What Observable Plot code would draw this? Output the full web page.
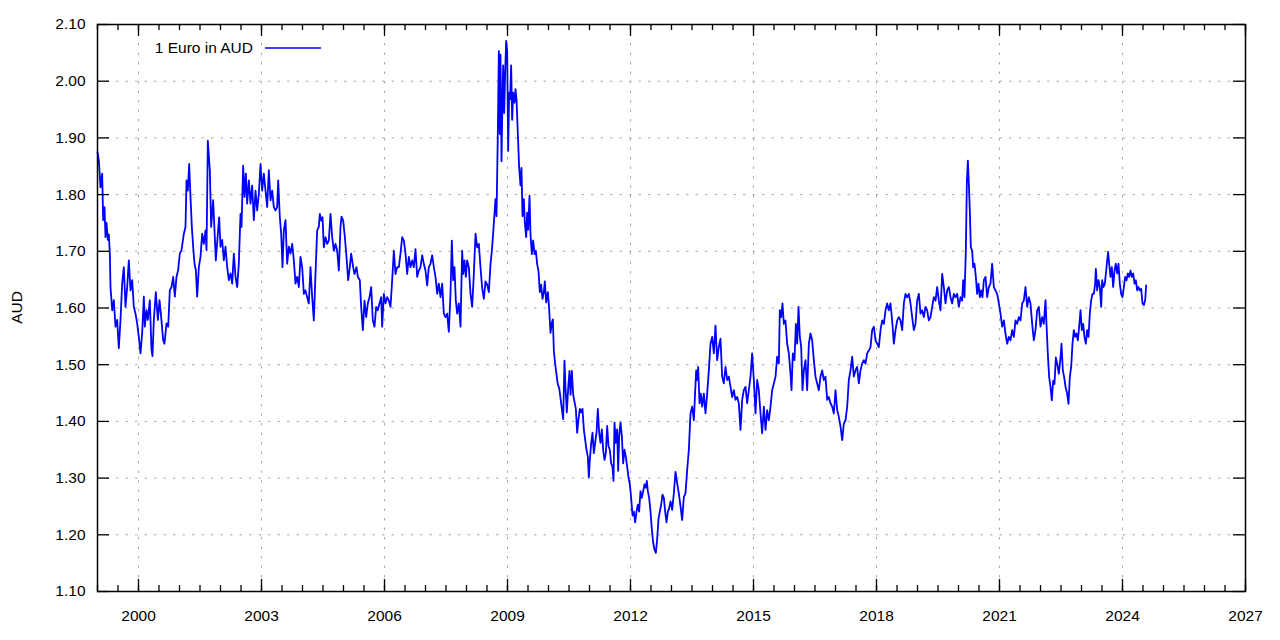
<!DOCTYPE html>
<html><head><meta charset="utf-8">
<script src="https://cdn.jsdelivr.net/npm/d3@7"></script>
<script src="https://cdn.jsdelivr.net/npm/@observablehq/plot@0.6"></script>
<style>
html,body{margin:0;padding:0;background:#fff;}
#chart{width:1280px;height:640px;}
</style></head><body><div id="chart"></div>
<script>
// EUR -> AUD exchange rate, [decimal year, AUD per 1 EUR]
const eur1999to2003 = [[1999.000,1.875],[1999.033,1.86],[1999.073,1.813],[1999.114,1.837],[1999.138,1.755],[1999.171,1.778],[1999.195,1.725],[1999.220,1.75],[1999.252,1.72],[1999.276,1.73],[1999.301,1.696],[1999.317,1.637],[1999.358,1.596],[1999.398,1.614],[1999.439,1.567],[1999.480,1.579],[1999.520,1.529],[1999.561,1.579],[1999.602,1.643],[1999.642,1.672],[1999.683,1.602],[1999.724,1.637],[1999.764,1.684],[1999.805,1.631],[1999.846,1.649],[1999.886,1.602],[1999.927,1.59],[1999.967,1.573],[2000.008,1.549],[2000.049,1.52],[2000.089,1.555],[2000.130,1.62],[2000.154,1.567],[2000.195,1.596],[2000.228,1.579],[2000.276,1.614],[2000.317,1.526],[2000.341,1.515],[2000.374,1.579],[2000.423,1.628],[2000.472,1.579],[2000.512,1.614],[2000.553,1.584],[2000.602,1.543],[2000.634,1.537],[2000.683,1.573],[2000.724,1.567],[2000.764,1.631],[2000.805,1.637],[2000.846,1.655],[2000.886,1.62],[2000.927,1.655],[2000.967,1.667],[2001.008,1.696],[2001.049,1.702],[2001.106,1.731],[2001.146,1.743],[2001.171,1.825],[2001.203,1.807],[2001.236,1.854],[2001.268,1.796],[2001.301,1.743],[2001.333,1.708],[2001.366,1.678],[2001.398,1.667],[2001.431,1.62],[2001.472,1.672],[2001.512,1.69],[2001.553,1.731],[2001.593,1.713],[2001.634,1.737],[2001.659,1.702],[2001.691,1.895],[2001.740,1.843],[2001.772,1.743],[2001.821,1.79],[2001.854,1.737],[2001.886,1.684],[2001.935,1.731],[2001.967,1.76],[2002.000,1.708],[2002.041,1.72],[2002.081,1.684],[2002.122,1.708],[2002.163,1.672],[2002.203,1.649],[2002.244,1.661],[2002.285,1.643],[2002.325,1.696],[2002.366,1.655],[2002.407,1.637],[2002.447,1.678],[2002.488,1.766],[2002.512,1.743],[2002.553,1.851],[2002.585,1.796],[2002.618,1.837],[2002.650,1.784],[2002.691,1.825],[2002.732,1.784],[2002.772,1.816],[2002.813,1.755],[2002.854,1.807],[2002.894,1.772],[2002.935,1.801],[2002.976,1.854],[2003.016,1.807],[2003.057,1.837],[2003.098,1.807],[2003.138,1.778],[2003.179,1.843],[2003.220,1.79],[2003.260,1.807],[2003.301,1.778],[2003.341,1.772],[2003.382,1.778],[2003.407,1.825],[2003.447,1.76],[2003.480,1.731],[2003.512,1.672],[2003.545,1.737],[2003.585,1.755],[2003.626,1.678],[2003.667,1.708],[2003.707,1.696]];

const eur2003to2008 = [[2003.748,1.713],[2003.789,1.684],[2003.829,1.643],[2003.870,1.655],[2003.911,1.637],[2003.951,1.69],[2003.992,1.672],[2004.033,1.625],[2004.073,1.631],[2004.114,1.619],[2004.154,1.608],[2004.195,1.672],[2004.236,1.619],[2004.276,1.578],[2004.317,1.66],[2004.358,1.737],[2004.398,1.743],[2004.423,1.766],[2004.455,1.754],[2004.488,1.76],[2004.520,1.707],[2004.561,1.725],[2004.602,1.713],[2004.642,1.719],[2004.683,1.766],[2004.724,1.725],[2004.764,1.701],[2004.805,1.713],[2004.846,1.701],[2004.886,1.666],[2004.927,1.743],[2004.951,1.761],[2004.992,1.754],[2005.033,1.725],[2005.073,1.69],[2005.114,1.649],[2005.154,1.672],[2005.187,1.696],[2005.236,1.672],[2005.268,1.66],[2005.317,1.672],[2005.350,1.655],[2005.398,1.649],[2005.431,1.602],[2005.472,1.561],[2005.512,1.613],[2005.553,1.584],[2005.593,1.608],[2005.634,1.619],[2005.675,1.637],[2005.715,1.578],[2005.756,1.567],[2005.797,1.602],[2005.837,1.596],[2005.878,1.608],[2005.919,1.619],[2005.943,1.567],[2005.984,1.625],[2006.024,1.608],[2006.065,1.619],[2006.106,1.613],[2006.146,1.602],[2006.187,1.649],[2006.228,1.701],[2006.268,1.66],[2006.309,1.672],[2006.350,1.672],[2006.390,1.696],[2006.431,1.725],[2006.472,1.719],[2006.512,1.696],[2006.553,1.66],[2006.593,1.69],[2006.634,1.672],[2006.675,1.684],[2006.715,1.672],[2006.756,1.704],[2006.797,1.655],[2006.837,1.666],[2006.878,1.672],[2006.919,1.693],[2006.959,1.678],[2007.000,1.666],[2007.041,1.64],[2007.081,1.672],[2007.122,1.678],[2007.163,1.693],[2007.203,1.672],[2007.244,1.655],[2007.285,1.625],[2007.325,1.643],[2007.366,1.619],[2007.407,1.643],[2007.447,1.59],[2007.488,1.584],[2007.528,1.59],[2007.569,1.558],[2007.610,1.625],[2007.642,1.719],[2007.675,1.649],[2007.707,1.672],[2007.740,1.613],[2007.772,1.59],[2007.813,1.608],[2007.854,1.567],[2007.894,1.701],[2007.919,1.66],[2007.951,1.684],[2007.984,1.655],[2008.016,1.684],[2008.057,1.672],[2008.098,1.625],[2008.138,1.602],[2008.179,1.66],[2008.220,1.731],[2008.260,1.707],[2008.301,1.713],[2008.341,1.672]];

const eur2008to2012 = [[2008.382,1.635],[2008.423,1.616],[2008.463,1.647],[2008.504,1.641],[2008.545,1.628],[2008.585,1.677],[2008.626,1.707],[2008.667,1.75],[2008.707,1.792],[2008.732,1.762],[2008.764,1.907],[2008.789,2.053],[2008.813,1.907],[2008.829,2.047],[2008.854,1.859],[2008.878,1.968],[2008.894,2.028],[2008.919,1.944],[2008.943,2.016],[2008.967,2.071],[2008.992,2.053],[2009.016,1.877],[2009.041,1.98],[2009.065,1.968],[2009.089,2.028],[2009.114,1.932],[2009.138,1.98],[2009.171,1.962],[2009.195,1.986],[2009.220,1.968],[2009.252,1.907],[2009.285,1.847],[2009.317,1.816],[2009.341,1.847],[2009.366,1.762],[2009.398,1.792],[2009.423,1.75],[2009.455,1.725],[2009.480,1.768],[2009.504,1.738],[2009.537,1.798],[2009.561,1.73],[2009.593,1.695],[2009.626,1.719],[2009.659,1.695],[2009.691,1.701],[2009.724,1.677],[2009.756,1.665],[2009.789,1.628],[2009.821,1.641],[2009.854,1.616],[2009.886,1.628],[2009.911,1.647],[2009.943,1.61],[2009.984,1.628],[2010.016,1.598],[2010.049,1.556],[2010.081,1.574],[2010.106,1.58],[2010.130,1.525],[2010.163,1.501],[2010.195,1.483],[2010.228,1.465],[2010.260,1.459],[2010.293,1.441],[2010.325,1.422],[2010.358,1.404],[2010.390,1.507],[2010.415,1.459],[2010.447,1.416],[2010.480,1.459],[2010.512,1.489],[2010.537,1.447],[2010.569,1.489],[2010.602,1.447],[2010.634,1.435],[2010.667,1.422],[2010.699,1.38],[2010.732,1.404],[2010.764,1.422],[2010.797,1.416],[2010.829,1.422],[2010.862,1.386],[2010.894,1.368],[2010.927,1.35],[2010.959,1.338],[2010.984,1.301],[2011.008,1.332],[2011.041,1.362],[2011.073,1.38],[2011.106,1.344],[2011.138,1.362],[2011.171,1.38],[2011.203,1.422],[2011.236,1.38],[2011.268,1.362],[2011.301,1.386],[2011.333,1.35],[2011.366,1.332],[2011.398,1.344],[2011.431,1.392],[2011.463,1.356],[2011.496,1.35],[2011.528,1.326],[2011.561,1.32],[2011.585,1.295],[2011.610,1.398],[2011.642,1.362],[2011.675,1.386],[2011.699,1.313],[2011.724,1.374],[2011.756,1.398],[2011.789,1.374],[2011.821,1.326],[2011.854,1.35],[2011.886,1.338],[2011.919,1.32],[2011.951,1.301],[2011.984,1.289],[2012.016,1.265],[2012.049,1.234],[2012.081,1.241],[2012.114,1.222],[2012.146,1.241],[2012.179,1.253],[2012.211,1.241],[2012.244,1.277],[2012.276,1.265],[2012.309,1.277],[2012.341,1.289],[2012.374,1.283],[2012.398,1.295],[2012.423,1.277],[2012.455,1.265],[2012.488,1.241],[2012.520,1.21],[2012.553,1.186],[2012.585,1.174],[2012.618,1.168],[2012.650,1.192],[2012.683,1.228],[2012.715,1.241],[2012.748,1.253],[2012.780,1.271],[2012.813,1.265],[2012.846,1.241],[2012.878,1.222],[2012.911,1.241],[2012.943,1.247],[2012.976,1.259]];

const eur2013to2017 = [[2013.016,1.244],[2013.057,1.273],[2013.098,1.311],[2013.138,1.291],[2013.179,1.273],[2013.220,1.25],[2013.260,1.226],[2013.301,1.267],[2013.341,1.273],[2013.382,1.314],[2013.423,1.35],[2013.463,1.414],[2013.504,1.426],[2013.545,1.402],[2013.569,1.44],[2013.602,1.49],[2013.626,1.473],[2013.650,1.496],[2013.683,1.432],[2013.715,1.449],[2013.748,1.426],[2013.789,1.449],[2013.829,1.414],[2013.870,1.449],[2013.911,1.49],[2013.951,1.537],[2013.992,1.549],[2014.033,1.52],[2014.073,1.569],[2014.114,1.508],[2014.154,1.531],[2014.195,1.546],[2014.236,1.479],[2014.276,1.467],[2014.317,1.496],[2014.358,1.473],[2014.398,1.479],[2014.439,1.461],[2014.480,1.443],[2014.520,1.455],[2014.561,1.438],[2014.602,1.443],[2014.642,1.432],[2014.683,1.385],[2014.724,1.438],[2014.764,1.455],[2014.805,1.461],[2014.846,1.432],[2014.886,1.455],[2014.927,1.479],[2014.967,1.52],[2015.008,1.473],[2015.049,1.414],[2015.089,1.473],[2015.130,1.455],[2015.171,1.414],[2015.211,1.379],[2015.252,1.426],[2015.293,1.385],[2015.333,1.42],[2015.374,1.402],[2015.415,1.426],[2015.455,1.455],[2015.496,1.467],[2015.537,1.479],[2015.577,1.514],[2015.618,1.502],[2015.642,1.596],[2015.675,1.584],[2015.707,1.608],[2015.740,1.572],[2015.780,1.578],[2015.821,1.537],[2015.862,1.52],[2015.902,1.484],[2015.927,1.455],[2015.959,1.52],[2016.000,1.508],[2016.033,1.572],[2016.065,1.537],[2016.098,1.602],[2016.130,1.549],[2016.163,1.531],[2016.195,1.455],[2016.228,1.49],[2016.268,1.508],[2016.309,1.455],[2016.350,1.537],[2016.390,1.555],[2016.431,1.543],[2016.472,1.508],[2016.512,1.479],[2016.553,1.467],[2016.593,1.455],[2016.634,1.479],[2016.675,1.49],[2016.715,1.473],[2016.756,1.479],[2016.797,1.438],[2016.837,1.443],[2016.878,1.432],[2016.919,1.426],[2016.959,1.414],[2017.000,1.455],[2017.041,1.42],[2017.081,1.408],[2017.122,1.391],[2017.163,1.367],[2017.203,1.396],[2017.244,1.402],[2017.285,1.426],[2017.325,1.473],[2017.366,1.49],[2017.407,1.514],[2017.447,1.479],[2017.488,1.49],[2017.528,1.496],[2017.569,1.467],[2017.610,1.49]];

const eur2017to2021 = [[2017.650,1.502],[2017.691,1.508],[2017.732,1.502],[2017.772,1.52],[2017.813,1.525],[2017.854,1.531],[2017.894,1.561],[2017.935,1.567],[2017.976,1.543],[2018.016,1.537],[2018.057,1.531],[2018.098,1.561],[2018.138,1.578],[2018.179,1.572],[2018.220,1.596],[2018.260,1.608],[2018.301,1.596],[2018.341,1.608],[2018.382,1.578],[2018.423,1.537],[2018.463,1.561],[2018.504,1.578],[2018.545,1.584],[2018.585,1.578],[2018.626,1.561],[2018.667,1.608],[2018.707,1.625],[2018.748,1.619],[2018.789,1.625],[2018.829,1.608],[2018.870,1.584],[2018.911,1.561],[2018.951,1.572],[2018.992,1.613],[2019.033,1.625],[2019.073,1.59],[2019.114,1.596],[2019.154,1.584],[2019.195,1.602],[2019.236,1.596],[2019.276,1.578],[2019.317,1.584],[2019.358,1.602],[2019.398,1.619],[2019.439,1.613],[2019.480,1.637],[2019.520,1.613],[2019.561,1.596],[2019.602,1.66],[2019.642,1.637],[2019.683,1.608],[2019.724,1.631],[2019.764,1.637],[2019.805,1.619],[2019.846,1.608],[2019.886,1.625],[2019.927,1.619],[2019.967,1.625],[2020.008,1.602],[2020.049,1.619],[2020.089,1.613],[2020.114,1.649],[2020.146,1.619],[2020.179,1.701],[2020.203,1.819],[2020.228,1.86],[2020.252,1.819],[2020.276,1.772],[2020.301,1.707],[2020.333,1.701],[2020.358,1.672],[2020.390,1.678],[2020.423,1.655],[2020.455,1.625],[2020.488,1.643],[2020.520,1.619],[2020.553,1.631],[2020.585,1.619],[2020.618,1.649],[2020.659,1.655],[2020.699,1.619],[2020.740,1.637],[2020.780,1.643],[2020.821,1.678],[2020.862,1.637],[2020.902,1.631],[2020.943,1.625],[2020.984,1.608],[2021.024,1.59],[2021.065,1.567],[2021.106,1.578],[2021.146,1.555],[2021.187,1.537],[2021.228,1.549],[2021.268,1.543],[2021.309,1.561],[2021.350,1.549],[2021.390,1.578],[2021.431,1.572],[2021.472,1.584],[2021.512,1.578],[2021.553,1.608],[2021.593,1.613],[2021.634,1.637],[2021.675,1.602],[2021.715,1.619],[2021.756,1.608],[2021.797,1.572],[2021.837,1.543],[2021.878,1.561],[2021.919,1.596],[2021.959,1.602],[2022.000,1.567]];

const eur2022to2024 = [[2022.041,1.584],[2022.081,1.572],[2022.122,1.614],[2022.146,1.572],[2022.179,1.519],[2022.211,1.478],[2022.244,1.461],[2022.276,1.437],[2022.309,1.472],[2022.341,1.466],[2022.374,1.513],[2022.407,1.502],[2022.447,1.484],[2022.488,1.513],[2022.512,1.537],[2022.545,1.49],[2022.577,1.478],[2022.610,1.461],[2022.650,1.449],[2022.683,1.431],[2022.715,1.478],[2022.748,1.496],[2022.780,1.537],[2022.813,1.561],[2022.846,1.549],[2022.878,1.555],[2022.911,1.543],[2022.943,1.567],[2022.976,1.596],[2023.008,1.561],[2023.041,1.572],[2023.073,1.549],[2023.106,1.537],[2023.138,1.561],[2023.171,1.549],[2023.203,1.59],[2023.236,1.614],[2023.268,1.625],[2023.301,1.625],[2023.333,1.643],[2023.350,1.669],[2023.382,1.631],[2023.415,1.649],[2023.447,1.637],[2023.480,1.602],[2023.504,1.649],[2023.537,1.637],[2023.569,1.643],[2023.602,1.666],[2023.626,1.684],[2023.650,1.699],[2023.675,1.678],[2023.707,1.655],[2023.740,1.672],[2023.772,1.637],[2023.805,1.666],[2023.837,1.678],[2023.870,1.661],[2023.902,1.678],[2023.935,1.643],[2023.967,1.625],[2024.000,1.619],[2024.033,1.637],[2024.065,1.655],[2024.098,1.649],[2024.130,1.661],[2024.163,1.655],[2024.195,1.666],[2024.228,1.655],[2024.260,1.661],[2024.293,1.643],[2024.325,1.649],[2024.358,1.631],[2024.390,1.637],[2024.423,1.631],[2024.455,1.634],[2024.488,1.608],[2024.520,1.605],[2024.553,1.614],[2024.577,1.64]];

const seriesName = "1 Euro in AUD";
const yLabel = "AUD";
const majorYears = [2000, 2003, 2006, 2009, 2012, 2015, 2018, 2021, 2024, 2027];
const minorYears = d3.range(1999, 2027.001, 0.5);
const yTicks = [1.10, 1.20, 1.30, 1.40, 1.50, 1.60, 1.70, 1.80, 1.90, 2.00, 2.10];

const rates = [...eur1999to2003, ...eur2003to2008, ...eur2008to2012, ...eur2013to2017, ...eur2017to2021, ...eur2022to2024]
  .map(([t, v]) => ({t, v}));

const W = 1280, H = 640, mL = 97, mR = 35, mT = 24, mB = 49;
const pw = W - mL - mR, ph = H - mT - mB;
const font = "'Liberation Sans', Arial, Helvetica, sans-serif";
const gridStyle = {stroke: "#a8a8a8", strokeOpacity: 1, strokeWidth: 1, strokeDasharray: "2.5,7"};
const tickStyle = {stroke: "#000", strokeWidth: 1.3};

const chart = Plot.plot({
  width: W, height: H,
  marginLeft: mL, marginRight: mR, marginTop: mT, marginBottom: mB,
  style: {fontFamily: font, fontSize: "15.5px", color: "#000", background: "#fff"},
  x: {type: "linear", domain: [1999, 2027], label: null},
  y: {domain: [1.1, 2.1], label: null},
  marks: [
    Plot.gridX(majorYears.filter(d => d < 2027), gridStyle),
    Plot.gridY(yTicks.filter(d => d > 1.1 && d < 2.1), gridStyle),
    Plot.line(rates, {x: "t", y: "v", stroke: "#0000ff", strokeWidth: 1.8}),
    // inward ticks on all four sides
    Plot.tickX(minorYears, {x: d => d, insetTop: ph - 6, ...tickStyle}),
    Plot.tickX(minorYears, {x: d => d, insetBottom: ph - 6, ...tickStyle}),
    Plot.tickX(majorYears, {x: d => d, insetTop: ph - 12, ...tickStyle}),
    Plot.tickX(majorYears, {x: d => d, insetBottom: ph - 12, ...tickStyle}),
    Plot.tickY(yTicks, {y: d => d, insetRight: pw - 12, ...tickStyle}),
    Plot.tickY(yTicks, {y: d => d, insetLeft: pw - 12, ...tickStyle}),
    Plot.axisX(majorYears, {anchor: "bottom", tickSize: 0, tickPadding: 18, tickFormat: d => String(d)}),
    Plot.axisY(yTicks, {anchor: "left", tickSize: 0, tickPadding: 12, tickFormat: d => d.toFixed(2)}),
    Plot.frame({stroke: "#000", strokeWidth: 1.5})
  ]
});

const svg = d3.select(chart);
svg.append("text")
  .attr("transform", "translate(17," + (mT + ph / 2) + ") rotate(-90)")
  .attr("text-anchor", "middle").attr("dy", "0.35em")
  .attr("fill", "#000").style("font-family", font).style("font-size", "15.5px")
  .text(yLabel);
const legend = svg.append("g");
legend.append("text")
  .attr("x", 253).attr("y", 48).attr("dy", "0.35em").attr("text-anchor", "end")
  .attr("fill", "#000").style("font-family", font).style("font-size", "15.5px")
  .text(seriesName);
legend.append("line")
  .attr("x1", 265).attr("x2", 321).attr("y1", 48).attr("y2", 48)
  .attr("stroke", "#0000ff").attr("stroke-width", 1.5);

document.getElementById("chart").appendChild(chart);
</script>
</body></html>
